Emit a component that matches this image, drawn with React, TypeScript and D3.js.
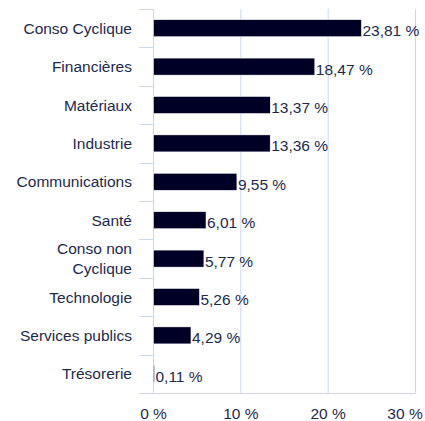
import React from "react";
import * as d3 from "d3";

const categories: string[][] = [
  ["Conso Cyclique"],
  ["Financières"],
  ["Matériaux"],
  ["Industrie"],
  ["Communications"],
  ["Santé"],
  ["Conso non", "Cyclique"],
  ["Technologie"],
  ["Services publics"],
  ["Trésorerie"],
];
const values: number[] = [23.81, 18.47, 13.37, 13.36, 9.55, 6.01, 5.77, 5.26, 4.29, 0.11];
const xTicks: number[] = [0, 10, 20, 30];

const W = 425;
const H = 421;
const TEXT = "#1c2a4d";
const BAR = "#000026";
const AXIS = "#ccd6eb";
const FONT = "'Liberation Sans', Arial, Helvetica, sans-serif";
const FS = 15.5;
const fmt = (v: number) => v.toFixed(2).replace(".", ",") + " %";

export default function App() {
  const x = d3.scaleLinear().domain([0, 30]).range([153.5, 415.5]);
  const y = d3
    .scaleBand<number>()
    .domain(d3.range(categories.length))
    .range([9, 393])
    .paddingInner(0)
    .paddingOuter(0);
  const bw = y.bandwidth();
  const barH = 17;
  const boundaries = d3.range(categories.length + 1).map((i) => 9 + i * bw);

  return (
    <svg
      width={W}
      height={H}
      style={{ position: "absolute", left: 0, top: 0, background: "#fff" }}
      fontFamily={FONT}
    >
      {xTicks.slice(1).map((t) => (
        <line key={t} x1={x(t)} x2={x(t)} y1={9} y2={393} stroke={AXIS} strokeWidth={1} />
      ))}
      <line x1={153.5} x2={153.5} y1={9} y2={393} stroke={AXIS} strokeWidth={1} />
      {boundaries.map((b, i) => (
        <line key={i} x1={139} x2={153.5} y1={Math.round(b) + 0.5} y2={Math.round(b) + 0.5} stroke={AXIS} strokeWidth={1} />
      ))}
      <line x1={139} x2={415.5} y1={393.5} y2={393.5} stroke={AXIS} strokeWidth={1} />
      {values.map((v, i) => {
        const cy = (y(i) as number) + bw / 2;
        return (
          <g key={i}>
            <rect
              x={x(0)}
              y={cy - barH / 2}
              width={Math.max(0, x(v) - x(0))}
              height={barH}
              fill={BAR}
              stroke="#ffffff"
              strokeWidth={0.5}
            />
            <text x={x(v) + 1} y={cy + 8} fontSize={FS} fill={TEXT}>
              {fmt(v)}
            </text>
            {categories[i].map((line, j) => (
              <text
                key={j}
                x={132}
                y={cy + 5.5 + (j - (categories[i].length - 1) / 2) * 20}
                fontSize={FS}
                fill={TEXT}
                textAnchor="end"
              >
                {line}
              </text>
            ))}
          </g>
        );
      })}
      {xTicks.map((t) => (
        <text key={t} x={Math.min(x(t), 405)} y={419} fontSize={FS} fill={TEXT} textAnchor="middle">
          {t} %
        </text>
      ))}
    </svg>
  );
}
